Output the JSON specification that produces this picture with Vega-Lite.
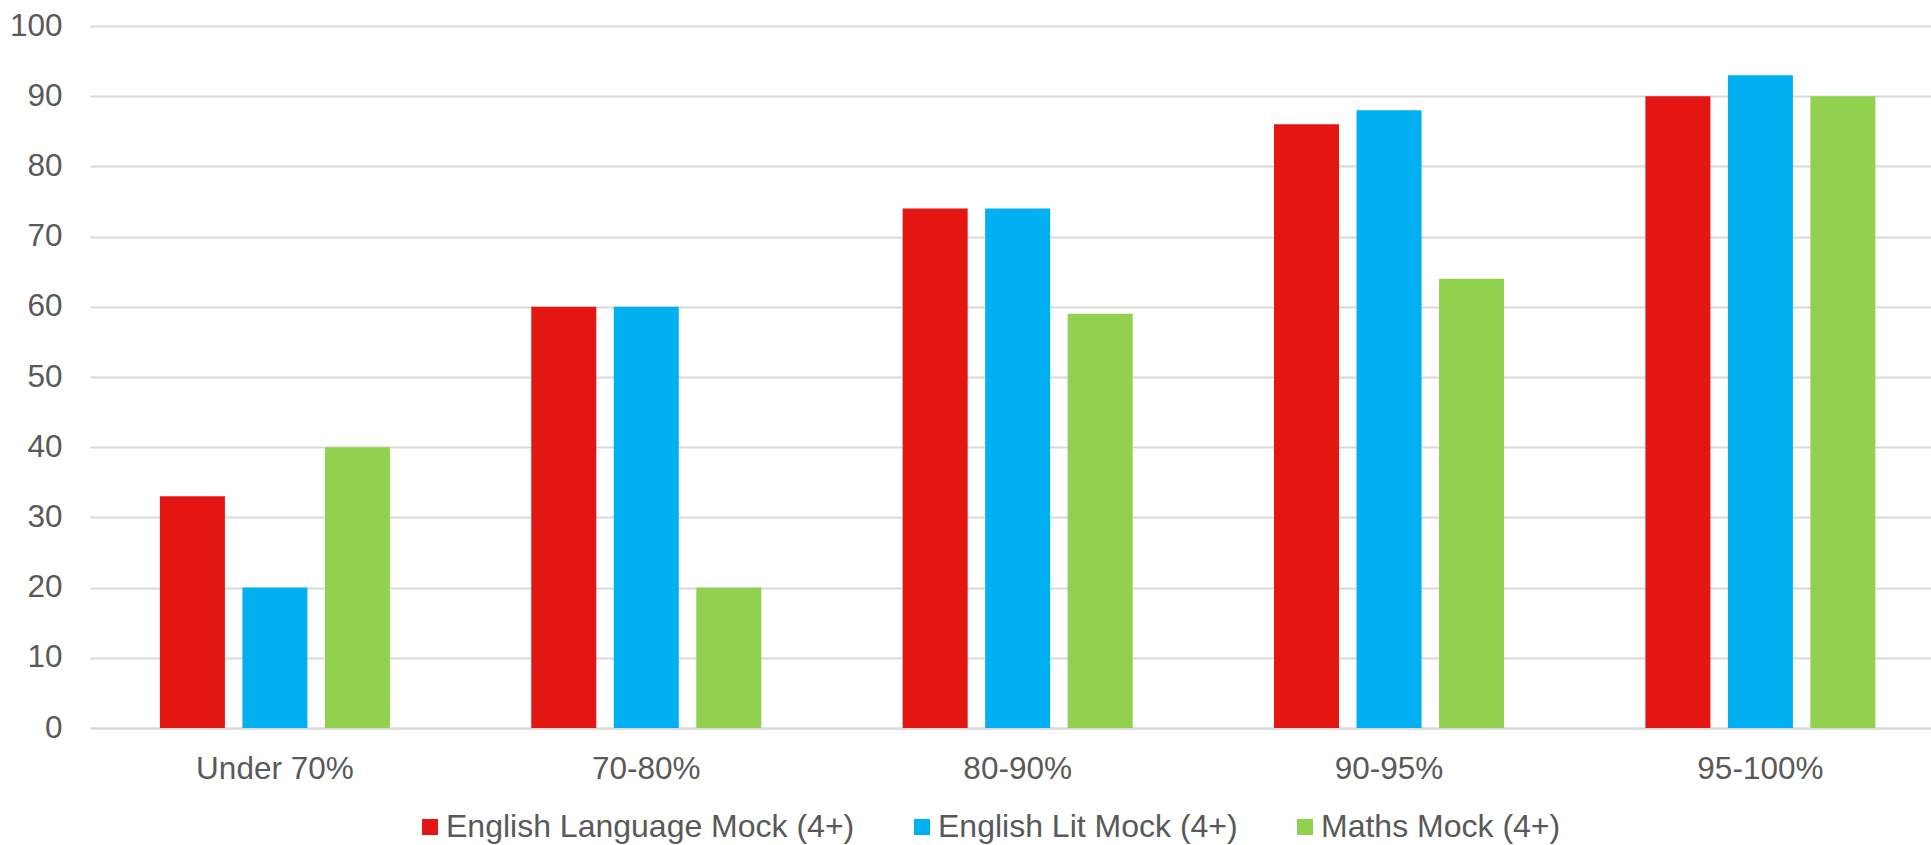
{
  "$schema": "https://vega.github.io/schema/vega-lite/v6.json",
  "width": 1841,
  "height": 702,
  "autosize": {"type": "none"},
  "padding": {"left": 90, "top": 26, "right": 0, "bottom": 117},
  "background": "white",
  "config": {"view": {"stroke": null}, "font": "Liberation Sans"},
  "data": {
    "values": [
      {"range": "Under 70%", "series": "English Language Mock (4+)", "value": 33},
      {"range": "Under 70%", "series": "English Lit Mock (4+)", "value": 20},
      {"range": "Under 70%", "series": "Maths Mock (4+)", "value": 40},
      {"range": "70-80%", "series": "English Language Mock (4+)", "value": 60},
      {"range": "70-80%", "series": "English Lit Mock (4+)", "value": 60},
      {"range": "70-80%", "series": "Maths Mock (4+)", "value": 20},
      {"range": "80-90%", "series": "English Language Mock (4+)", "value": 74},
      {"range": "80-90%", "series": "English Lit Mock (4+)", "value": 74},
      {"range": "80-90%", "series": "Maths Mock (4+)", "value": 59},
      {"range": "90-95%", "series": "English Language Mock (4+)", "value": 86},
      {"range": "90-95%", "series": "English Lit Mock (4+)", "value": 88},
      {"range": "90-95%", "series": "Maths Mock (4+)", "value": 64},
      {"range": "95-100%", "series": "English Language Mock (4+)", "value": 90},
      {"range": "95-100%", "series": "English Lit Mock (4+)", "value": 93},
      {"range": "95-100%", "series": "Maths Mock (4+)", "value": 90}
    ]
  },
  "mark": {"type": "bar"},
  "encoding": {
    "x": {
      "field": "range",
      "type": "nominal",
      "sort": ["Under 70%", "70-80%", "80-90%", "90-95%", "95-100%"],
      "scale": {"paddingInner": 0.3807, "paddingOuter": 0.169, "align": 0.557},
      "axis": {
        "title": null,
        "labelAngle": 0,
        "labelFontSize": 31.5,
        "labelColor": "#595959",
        "labelPadding": 25,
        "ticks": false,
        "tickSize": 0,
        "domainColor": "#d9d9d9",
        "domainWidth": 2
      }
    },
    "xOffset": {
      "field": "series",
      "type": "nominal",
      "sort": ["English Language Mock (4+)", "English Lit Mock (4+)", "Maths Mock (4+)"],
      "scale": {"paddingInner": 0.212, "paddingOuter": 0}
    },
    "y": {
      "field": "value",
      "type": "quantitative",
      "scale": {"domain": [0, 100], "nice": false},
      "axis": {
        "title": null,
        "values": [0, 10, 20, 30, 40, 50, 60, 70, 80, 90, 100],
        "grid": true,
        "gridColor": "#d9d9d9",
        "gridWidth": 2,
        "domain": false,
        "ticks": false,
        "tickSize": 0,
        "labelFontSize": 31.5,
        "labelColor": "#595959",
        "labelPadding": 28
      }
    },
    "color": {
      "field": "series",
      "type": "nominal",
      "scale": {
        "domain": ["English Language Mock (4+)", "English Lit Mock (4+)", "Maths Mock (4+)"],
        "range": ["#e31612", "#00b0f0", "#92d050"]
      },
      "legend": {
        "title": null,
        "orient": "none",
        "legendX": 324,
        "legendY": 785,
        "direction": "horizontal",
        "symbolType": "square",
        "symbolSize": 256,
        "symbolStrokeWidth": 0,
        "labelFontSize": 32,
        "labelColor": "#595959",
        "labelOffset": 0,
        "columnPadding": 51,
        "padding": 0,
        "labelLimit": 0
      }
    }
  }
}
